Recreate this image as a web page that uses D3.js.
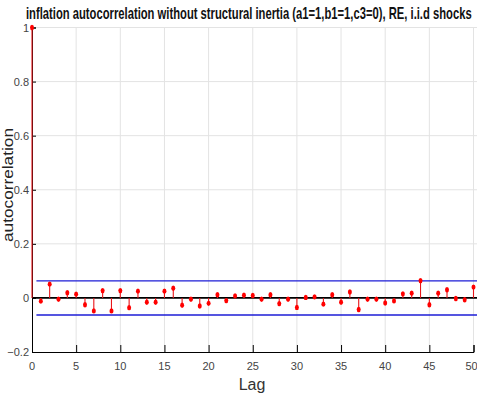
<!DOCTYPE html>
<html>
<head>
<meta charset="utf-8">
<script src="https://cdn.jsdelivr.net/npm/d3@7"></script>
<style>
  html, body { margin: 0; padding: 0; background: #fff; }
  svg { display: block; }
  text { font-family: "Liberation Sans Narrow", "Liberation Sans", Arial, sans-serif; }
</style>
</head>
<body>
<script>
// Sample autocorrelation of inflation, lags 0..50
const lags = d3.range(0, 51);
const acf = [
  1.000, -0.012, 0.051, -0.005, 0.019, 0.014, -0.025, -0.048, 0.027, -0.048,
  0.027, -0.036, 0.025, -0.016, -0.016, 0.025, 0.036, -0.027, -0.005, -0.030,
  -0.020, 0.012, -0.010, 0.007, 0.010, 0.009, -0.005, 0.012, -0.021, -0.005,
  -0.035, 0.002, 0.004, -0.023, 0.012, -0.016, 0.022, -0.043, -0.005, -0.005,
  -0.019, -0.011, 0.015, 0.017, 0.064, -0.025, 0.017, 0.030, -0.002, -0.007,
  0.040
];
// Confidence bounds
const bound = 0.063;
const xTicks = [0, 5, 10, 15, 20, 25, 30, 35, 40, 45, 50];
const yTicks = [-0.2, 0, 0.2, 0.4, 0.6, 0.8, 1];

const W = 477, H = 394;
const x = d3.scaleLinear().domain([0, 50]).range([32, 473.5]);
const y = d3.scaleLinear().domain([-0.2, 1]).range([352, 27.5]);
const right = W;

const svg = d3.select("body").append("svg").attr("width", W).attr("height", H);

// grid
const g = svg.append("g");
g.selectAll("line.vg").data(xTicks.slice(1)).join("line")
  .attr("x1", d => x(d)).attr("x2", d => x(d))
  .attr("y1", y(1)).attr("y2", y(-0.2))
  .attr("stroke", "#e3e3e3").attr("stroke-width", 1);
g.selectAll("line.hg").data(yTicks.filter(d => d > -0.2)).join("line")
  .attr("x1", x(0)).attr("x2", right)
  .attr("y1", d => y(d)).attr("y2", d => y(d))
  .attr("stroke", "#e3e3e3").attr("stroke-width", 1);

// axes
const xAxis = svg.append("g").attr("transform", `translate(0,${y(-0.2)})`)
  .call(d3.axisTop(x).tickValues(xTicks).tickSize(7).tickFormat(""));
xAxis.select(".domain").attr("stroke", "#000");
xAxis.selectAll(".tick line").attr("stroke", "#000");
svg.append("g").selectAll("text").data(xTicks).join("text")
  .attr("x", d => Math.min(x(d), W - 5.5)).attr("y", 369.5)
  .attr("text-anchor", "middle").attr("font-size", 11).attr("fill", "#444")
  .text(d => d);

const yAxis = svg.append("g").attr("transform", `translate(${x(0)},0)`)
  .call(d3.axisRight(y).tickValues(yTicks).tickSize(4).tickFormat(""));
yAxis.select(".domain").attr("stroke", "#000");
yAxis.selectAll(".tick line").attr("stroke", "#000");
svg.append("g").selectAll("text").data(yTicks).join("text")
  .attr("x", 29).attr("y", d => y(d) + 4)
  .attr("text-anchor", "end").attr("font-size", 11).attr("fill", "#444")
  .text(d => d3.format("")(+d.toFixed(1)));

// zero line and confidence bounds
svg.append("line")
  .attr("x1", x(0)).attr("x2", right).attr("y1", y(0)).attr("y2", y(0))
  .attr("stroke", "#000").attr("stroke-width", 1.6);
svg.selectAll("line.bound").data([bound, -bound]).join("line")
  .attr("x1", x(0.5)).attr("x2", right)
  .attr("y1", d => y(d)).attr("y2", d => y(d))
  .attr("stroke", "#1c1cd6").attr("stroke-width", 1.4);

// stems and markers
const pts = lags.map((l, i) => ({ lag: l, v: acf[i] }));
svg.append("g").selectAll("line").data(pts).join("line")
  .attr("x1", d => x(d.lag)).attr("x2", d => x(d.lag))
  .attr("y1", y(0)).attr("y2", d => y(d.v))
  .attr("stroke", "#e8161a").attr("stroke-width", 1.1);
svg.append("g").selectAll("ellipse").data(pts).join("ellipse")
  .attr("cx", d => x(d.lag)).attr("cy", d => y(d.v))
  .attr("rx", 2).attr("ry", 2.7)
  .attr("fill", "#ff0000");

// title, squeezed horizontally to fit the width
const title = svg.append("text").attr("x", 0).attr("y", 0)
  .attr("font-size", 16).attr("font-weight", "bold").attr("fill", "#111")
  .text("inflation autocorrelation without structural inertia (a1=1,b1=1,c3=0), RE, i.i.d shocks");
const tw = title.node().getComputedTextLength();
title.attr("transform", `translate(26,19) scale(${446 / tw},1)`);

svg.append("text")
  .attr("transform", `translate(13,185) rotate(-90)`)
  .attr("text-anchor", "middle").attr("font-size", 15.5).attr("fill", "#222")
  .attr("textLength", 114).attr("lengthAdjust", "spacingAndGlyphs")
  .style("font-family", "'Liberation Sans', Arial, sans-serif")
  .text("autocorrelation");

svg.append("text").attr("x", 252).attr("y", 390)
  .attr("text-anchor", "middle").attr("font-size", 16).attr("fill", "#333")
  .text("Lag");
</script>
</body>
</html>
